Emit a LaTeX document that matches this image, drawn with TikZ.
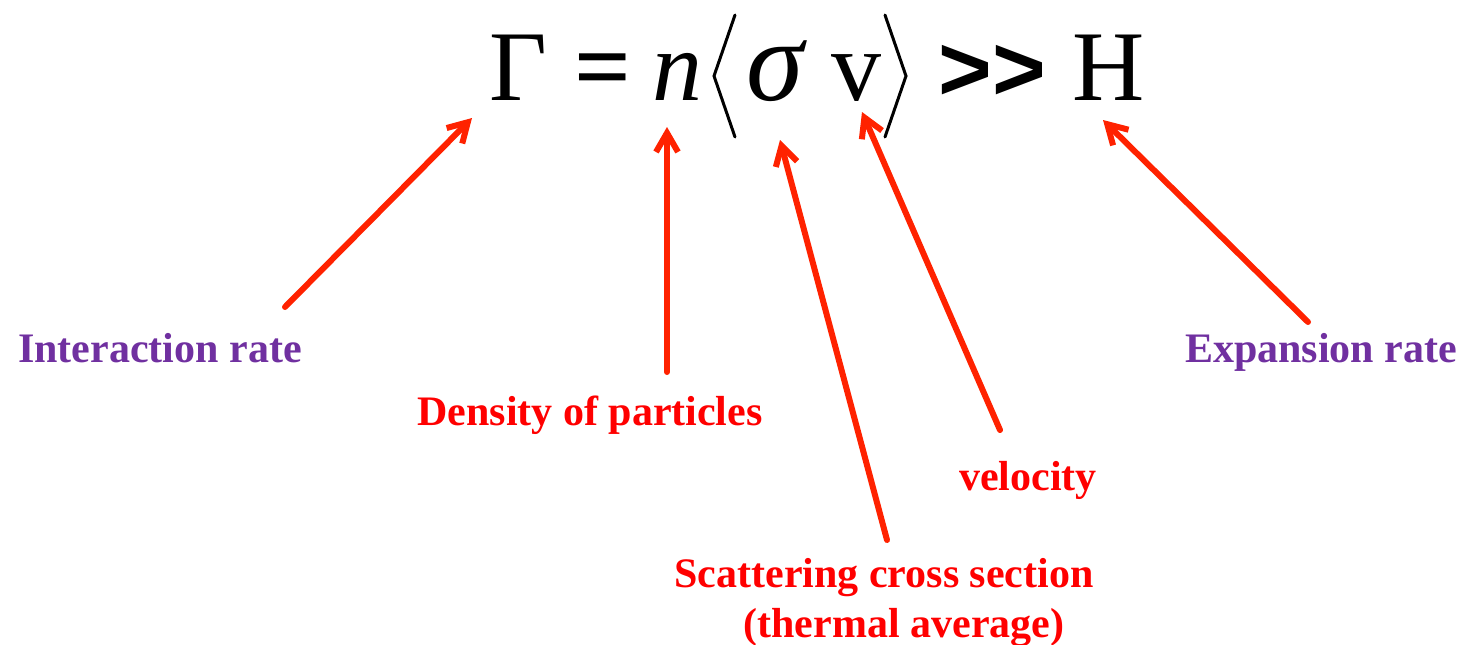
\documentclass[tikz,border=0pt]{standalone}
\usepackage{fontspec}
\setmainfont{Liberation Serif}
\newfontfamily\glyphsans{Liberation Sans}
\usetikzlibrary{arrows.meta}
\definecolor{arrowred}{HTML}{FF2200}
\definecolor{notered}{HTML}{FF0000}
\definecolor{notepurple}{HTML}{7030A0}
\begin{document}
\begin{tikzpicture}[x=1pt,y=-1pt,line cap=round,line join=round]
  \tikzset{glyph/.style={inner sep=0pt,anchor=base,font=\fontsize{100}{110}\selectfont},
    note/.style={inner sep=0pt,anchor=base,font=\fontsize{42}{48}\selectfont\bfseries},
    pointer/.style={draw=arrowred,line width=6pt,-{Straight Barb[length=19pt,width=22pt]}}}
  \useasboundingbox (0,0) rectangle (1465,645);
  % The relation, one glyph per node.
  \node[glyph] (gamma) at (518,100) {Γ};
  \node[glyph] (eq) at (603,100) {\bfseries =};
  \node[glyph] (n) at (677,100) {\itshape n};
  \node[glyph] (sigma) at (775,100) {\fontsize{116}{120}\selectfont\itshape σ};
  \node[glyph] (v) at (856,100) {v};
  \node[glyph] (gg) at (992,100) {\fontsize{92}{100}\selectfont\glyphsans\bfseries >{}>};
  \node[glyph] (H) at (1109,100) {H};
  \draw[line width=3pt,line join=miter] (735,15) -- (714,76) -- (735,137);
  \draw[line width=3pt,line join=miter] (885,15) -- (906,76) -- (885,137);
  % Labels under the relation.
  \node[note,text=notepurple] (intrate) at (160,362) {Interaction rate};
  \node[note,text=notered] (density) at (590,425) {Density of particles};
  \node[note,text=notered] (velocity) at (1028,490) {velocity};
  \node[note,text=notered] (scat) at (884,587) {Scattering cross section};
  \node[note,text=notered] (thermal) at (904,637) {(thermal average)};
  \node[note,text=notepurple] (exprate) at (1321,362) {Expansion rate};
  % Pointers from each label up to its symbol.
  \draw[pointer] ([shift={(125,-55)}]intrate.base) -- ([shift={(-46,18)}]gamma.base);
  \draw[pointer] ([shift={(77,-53)}]density.base) -- ([shift={(-10,27)}]n.base);
  \draw[pointer] ([shift={(3,-47)}]scat.base) -- ([shift={(5,40)}]sigma.base);
  \draw[pointer] ([shift={(-28,-60)}]velocity.base) -- ([shift={(6,12)}]v.base);
  \draw[pointer] ([shift={(-13,-40)}]exprate.base) -- ([shift={(-6,20)}]H.base);
\end{tikzpicture}
\end{document}
